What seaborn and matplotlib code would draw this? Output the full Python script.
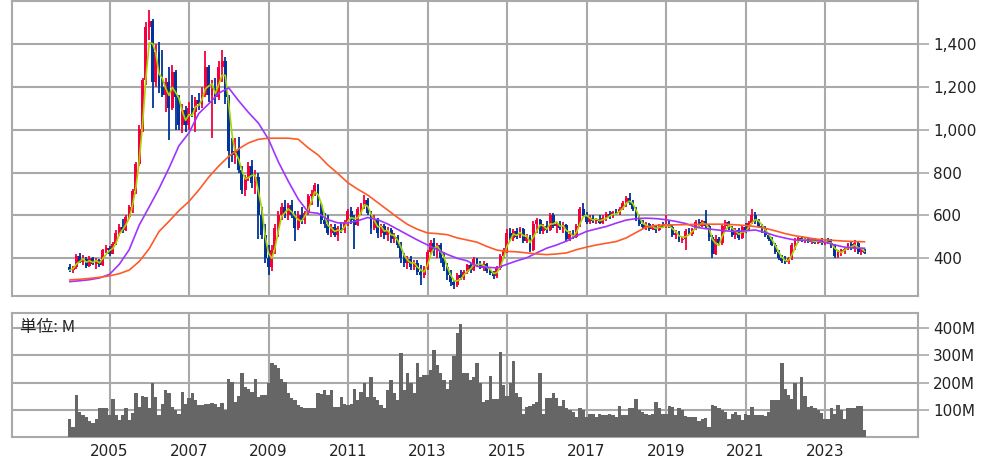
import numpy as np
import pandas as pd
import matplotlib
matplotlib.use("Agg")
import matplotlib.pyplot as plt
from matplotlib.ticker import FuncFormatter
import seaborn as sns

# ==================== Monthly OHLC (Jan 2004 - Jan 2024) ====================
opens = [
    360, 345, 358, 412, 382, 398, 365, 402, 374, 392, 368, 438,
    448, 422, 468, 520, 548, 530, 592, 640, 715, 840, 1005, 1230,
    1480, 1505, 1220, 1360, 1200, 1160, 1220, 1100, 1270, 1150, 1020, 1090,
    1020, 1100, 1080, 1140, 1120, 1160, 1290, 1160, 1190, 1150, 1290, 1320,
    1150, 900, 880, 900, 810, 720, 780, 830, 750, 780, 600, 510,
    400, 360, 440, 540, 600, 640, 600, 650, 600, 540, 600, 580,
    610, 690, 700, 740, 650, 580, 560, 520, 545, 510, 540, 530,
    570, 620, 580, 555, 630, 650, 670, 610, 540, 580, 520, 550,
    510, 530, 490, 500, 460, 400, 380, 395, 360, 380, 335, 320,
    355, 430, 470, 440, 460, 400, 360, 320, 290, 275, 320, 310,
    335, 370, 345, 395, 370, 355, 375, 340, 330, 315, 355, 410,
    440, 520, 495, 525, 500, 535, 480, 500, 440, 560, 580, 525,
    550, 530, 600, 550, 560, 540, 555, 490, 515, 500, 550, 630,
    600, 570, 590, 575, 585, 565, 590, 605, 595, 615, 610, 630,
    660, 680, 660, 630, 585, 560, 545, 560, 535, 550, 530, 555,
    545, 560, 545, 510, 520, 485, 490, 525, 515, 535, 570, 550,
    575, 550, 500, 420, 490, 470, 550, 570, 540, 510, 530, 495,
    545, 530, 565, 600, 575, 550, 540, 510, 490, 460, 430, 400,
    385, 382, 400, 460, 485, 495, 480, 490, 475, 485, 472, 485,
    470, 480, 470, 460, 410, 430, 440, 445, 465, 450, 470, 430, 440,
]
highs = [
    372, 365, 420, 425, 415, 405, 410, 408, 400, 398, 445, 460,
    458, 475, 530, 560, 585, 600, 650, 725, 850, 1020, 1240, 1500,
    1560, 1515, 1400, 1410, 1370, 1240, 1290, 1300, 1280, 1160, 1120, 1110,
    1130, 1160, 1150, 1170, 1200, 1365, 1300, 1230, 1240, 1320, 1370, 1340,
    1160, 960, 960, 965, 830, 790, 850, 860, 810, 800, 640, 560,
    460, 460, 560, 620, 660, 670, 660, 670, 620, 620, 640, 620,
    700, 720, 750, 745, 660, 610, 600, 560, 560, 550, 570, 580,
    630, 640, 600, 640, 660, 695, 680, 620, 600, 590, 560, 560,
    545, 540, 520, 510, 475, 425, 410, 410, 390, 390, 370, 365,
    440, 485, 495, 470, 470, 430, 380, 345, 300, 330, 345, 345,
    375, 380, 408, 400, 385, 385, 380, 350, 340, 365, 420, 450,
    535, 540, 535, 540, 545, 540, 515, 510, 575, 590, 585, 560,
    575, 612, 612, 570, 575, 570, 560, 525, 530, 560, 640, 658,
    615, 600, 600, 590, 600, 600, 615, 620, 620, 630, 640, 665,
    690, 705, 670, 640, 600, 580, 570, 565, 560, 555, 560, 570,
    600, 575, 555, 530, 525, 500, 535, 540, 540, 580, 585, 580,
    627, 560, 510, 510, 500, 560, 580, 575, 550, 540, 540, 555,
    565, 575, 630, 615, 585, 560, 550, 520, 500, 470, 440, 415,
    410, 408, 470, 495, 500, 505, 500, 500, 495, 495, 490, 495,
    490, 495, 490, 465, 440, 445, 450, 470, 480, 485, 480, 450, 445,
]
lows = [
    335, 330, 352, 378, 370, 355, 360, 368, 348, 360, 365, 425,
    412, 418, 460, 505, 520, 525, 585, 610, 700, 830, 990, 1210,
    1420, 1100, 1200, 1170, 1150, 1080, 950, 1090, 1000, 1000, 985, 990,
    1000, 1060, 990, 1090, 1100, 1150, 1130, 960, 1120, 1140, 1220, 1120,
    820, 850, 840, 800, 700, 690, 760, 730, 700, 490, 490, 380,
    320, 340, 420, 500, 580, 590, 580, 590, 480, 530, 560, 560,
    600, 650, 690, 640, 560, 540, 510, 500, 500, 480, 520, 520,
    550, 560, 445, 550, 600, 630, 600, 515, 530, 495, 500, 490,
    480, 470, 470, 450, 380, 360, 350, 345, 345, 320, 275, 310,
    345, 420, 410, 400, 380, 340, 300, 270, 256, 265, 300, 300,
    325, 330, 340, 360, 350, 340, 330, 320, 305, 306, 345, 400,
    425, 480, 480, 490, 495, 470, 470, 430, 435, 520, 515, 515,
    520, 525, 540, 520, 530, 520, 478, 480, 490, 495, 545, 595,
    560, 560, 565, 560, 560, 560, 575, 585, 590, 600, 600, 625,
    640, 650, 620, 575, 550, 535, 530, 525, 530, 520, 525, 540,
    540, 540, 500, 490, 478, 470, 440, 510, 505, 530, 545, 545,
    540, 480, 400, 415, 460, 460, 530, 530, 500, 490, 485, 490,
    520, 525, 560, 560, 540, 520, 500, 480, 455, 420, 390, 380,
    375, 375, 390, 440, 470, 475, 470, 470, 465, 468, 465, 460,
    460, 465, 450, 400, 400, 410, 420, 440, 440, 430, 420, 415, 420,
]
closes = [
    345, 358, 412, 382, 398, 365, 402, 374, 392, 368, 438, 448,
    422, 468, 520, 548, 530, 592, 640, 715, 840, 1005, 1230, 1480,
    1505, 1220, 1360, 1200, 1160, 1220, 1100, 1270, 1150, 1020, 1090, 1020,
    1100, 1080, 1140, 1120, 1160, 1290, 1160, 1190, 1150, 1290, 1320, 1150,
    900, 880, 900, 810, 720, 780, 830, 750, 780, 600, 510, 400,
    360, 440, 540, 600, 640, 600, 650, 600, 540, 600, 580, 610,
    690, 700, 740, 650, 580, 560, 520, 545, 510, 540, 530, 570,
    620, 580, 555, 630, 650, 670, 610, 540, 580, 520, 550, 510,
    530, 490, 500, 460, 400, 380, 395, 360, 380, 335, 320, 355,
    430, 470, 440, 460, 400, 360, 320, 290, 275, 320, 310, 335,
    370, 345, 395, 370, 355, 375, 340, 330, 315, 355, 410, 440,
    520, 495, 525, 500, 535, 480, 500, 440, 560, 580, 525, 550,
    530, 600, 550, 560, 540, 555, 490, 515, 500, 550, 630, 600,
    570, 590, 575, 585, 565, 590, 605, 595, 615, 610, 630, 660,
    680, 660, 630, 585, 560, 545, 560, 535, 550, 530, 555, 545,
    560, 545, 510, 520, 485, 490, 525, 515, 535, 570, 550, 575,
    550, 500, 420, 490, 470, 550, 570, 540, 510, 530, 495, 545,
    530, 565, 600, 575, 550, 540, 510, 490, 460, 430, 400, 385,
    382, 400, 460, 485, 495, 480, 490, 475, 485, 472, 485, 470,
    480, 470, 460, 410, 430, 440, 445, 465, 450, 470, 430, 440, 425,
]
# monthly volume, millions of shares
volumes = [
    68, 37, 154, 92, 80, 74, 59, 52, 68, 108, 108, 108,
    80, 138, 80, 62, 80, 105, 64, 90, 160, 111, 151, 148,
    105, 199, 148, 80, 123, 172, 160, 111, 98, 86, 166, 123,
    142, 160, 135, 117, 117, 121, 121, 126, 121, 111, 126, 98,
    215, 203, 129, 150, 234, 185, 178, 166, 215, 148, 154, 154,
    200, 273, 265, 252, 215, 203, 160, 142, 135, 117, 111, 105,
    108, 105, 108, 160, 158, 172, 154, 172, 111, 111, 148, 123,
    117, 123, 175, 135, 166, 199, 148, 222, 148, 135, 117, 108,
    172, 209, 160, 135, 310, 172, 236, 197, 160, 273, 222, 228,
    228, 246, 320, 265, 234, 209, 178, 209, 298, 384, 416, 234,
    236, 209, 222, 273, 197, 129, 135, 225, 138, 140, 314, 191,
    150, 200, 281, 160, 148, 86, 111, 113, 123, 129, 236, 86,
    142, 145, 160, 142, 113, 135, 108, 98, 92, 74, 105, 98,
    74, 86, 84, 74, 86, 80, 80, 86, 80, 74, 113, 80,
    80, 108, 108, 138, 98, 92, 86, 80, 86, 129, 108, 86,
    86, 113, 111, 80, 105, 98, 76, 74, 74, 74, 59, 68,
    71, 37, 117, 113, 105, 101, 92, 68, 86, 92, 80, 62,
    84, 80, 111, 80, 80, 80, 76, 92, 135, 135, 135, 271,
    178, 154, 138, 197, 98, 222, 150, 111, 113, 105, 98, 89,
    68, 68, 105, 86, 117, 98, 68, 105, 108, 105, 113, 113, 25,
]
# longer moving averages, one value per quarter
ma_mid = [
    291, 295, 300, 308, 325, 372, 440, 555, 640, 725, 820, 925,
    985, 1075, 1120, 1170, 1195, 1135, 1080, 1030, 955, 850, 760, 676,
    615, 610, 580, 565, 565, 575, 590, 580, 560, 535, 510, 485,
    462, 440, 418, 400, 388, 362, 358, 355, 372, 388, 402, 425,
    447, 462, 480, 505, 525, 537, 548, 564, 578, 585, 587, 585,
    580, 572, 562, 545, 538, 533, 528, 525, 528, 532, 520, 505,
    494, 485, 484, 486, 475, 462, 452, 447, 447,
]
ma_long = [
    299, 302, 306, 311, 318, 328, 345, 385, 445, 525, 572, 622,
    665, 718, 778, 830, 875, 910, 938, 955, 960, 960, 960, 955,
    915, 882, 835, 795, 752, 722, 695, 660, 625, 590, 558, 535,
    518, 515, 510, 495, 485, 475, 455, 438, 432, 430, 425, 420,
    417, 420, 425, 440, 452, 462, 470, 478, 495, 520, 545, 553,
    556, 556, 557, 558, 559, 559, 559, 556, 553, 548, 540, 528,
    515, 505, 498, 490, 486, 483, 480, 478, 477,
]
price_ticks = [400, 600, 800, 1000, 1200, 1400]
vol_ticks = [100, 200, 300, 400]
year_ticks = [2005, 2007, 2009, 2011, 2013, 2015, 2017, 2019, 2021, 2023]

UP = "#f5003c"
DOWN = "#00349a"
GREEN = "#a8d400"
PURPLE = "#a033ff"
ORANGE = "#ff5a28"
GRID = "#a9a9a9"
VOL = "#666666"

months = pd.date_range("2004-01-01", periods=len(closes), freq="MS")
ma_dates = months[::3]
ma_short = pd.Series(closes).rolling(3, min_periods=1).mean()

sns.set_theme(style="white")
plt.rcParams["font.family"] = ["DejaVu Sans"]

fig = plt.figure(figsize=(9.99, 4.58), dpi=100)
ax = fig.add_axes([12 / 999, 1 - 296 / 458, 906 / 999, 295 / 458])
axv = fig.add_axes([12 / 999, 1 - 437 / 458, 906 / 999, 124 / 458], sharex=ax)

o = np.array(opens, float)
c = np.array(closes, float)
cols = np.where(c >= o, UP, DOWN)

# ---- candles ----
ax.vlines(months, lows, highs, colors=cols, lw=1.3, zorder=3)
ax.bar(months, np.maximum(np.abs(c - o), 5), bottom=np.minimum(o, c),
       width=27, color=cols, linewidth=0, zorder=3)

# ---- moving averages ----
sns.lineplot(x=months, y=ma_short.values, ax=ax, color=GREEN, lw=1.2, zorder=4)
sns.lineplot(x=ma_dates, y=ma_mid, ax=ax, color=PURPLE, lw=1.2, zorder=4)
sns.lineplot(x=ma_dates, y=ma_long, ax=ax, color=ORANGE, lw=1.2, zorder=4)

# ---- volume ----
axv.bar(months, volumes, width=31, color=VOL, linewidth=0, zorder=3)
axv.text(8 / 906, 0.885, "単位: M", transform=axv.transAxes, fontsize=12,
         family=["Noto Sans CJK JP", "DejaVu Sans"], va="center", ha="left",
         color="#222222", zorder=5)

xticks = [pd.Timestamp(f"{y}-01-01") for y in year_ticks]
ax.set_xlim(pd.Timestamp("2002-07-20"), pd.Timestamp("2025-05-05"))
ax.set_ylim(224, 1600)
axv.set_ylim(0, 456)

for a in (ax, axv):
    a.set_xticks(xticks)
    a.grid(True, color=GRID, lw=1.5, zorder=0)
    a.set_axisbelow(True)
    a.yaxis.tick_right()
    for s in a.spines.values():
        s.set_color(GRID)
        s.set_linewidth(1.5)
    a.tick_params(axis="y", length=8, width=1.2, color=GRID, labelsize=11,
                  pad=3, labelcolor="#222222")
    a.tick_params(axis="x", length=0, labelsize=11, labelcolor="#222222", pad=5)
    a.set_xlabel("")
    a.set_ylabel("")

ax.set_yticks(price_ticks)
ax.yaxis.set_major_formatter(FuncFormatter(lambda v, p: f"{int(v):,}"))
ax.tick_params(axis="x", labelbottom=False)

axv.set_yticks(vol_ticks)
axv.yaxis.set_major_formatter(FuncFormatter(lambda v, p: f"{int(v)}M"))
axv.set_xticklabels([str(y) for y in year_ticks])

fig.savefig("out.png", dpi=100)
